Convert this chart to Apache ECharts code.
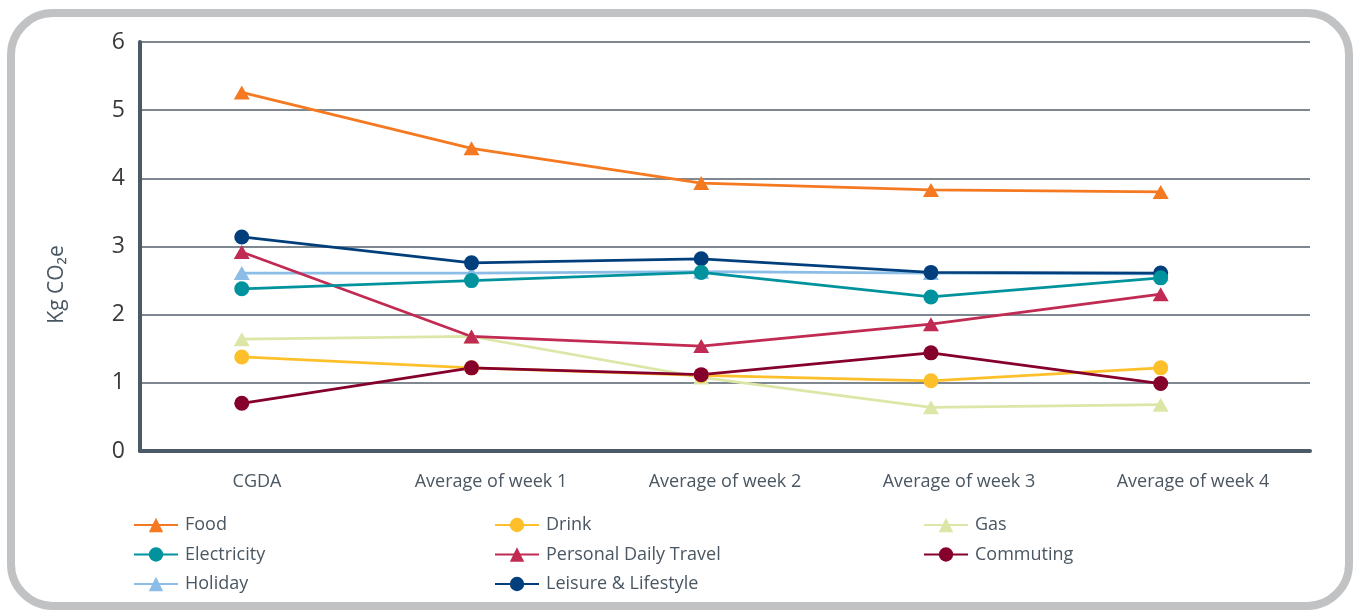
<!DOCTYPE html>
<html><head><meta charset="utf-8">
<script src="https://cdn.jsdelivr.net/npm/echarts@6/dist/echarts.min.js"></script>
<style>html,body{margin:0;padding:0;background:#fff}#c{width:1355px;height:610px}</style>
</head><body><div id="c"></div>
<script>
const categories = ['CGDA', 'Average of week 1', 'Average of week 2', 'Average of week 3', 'Average of week 4'];
const yTicks = [0, 1, 2, 3, 4, 5, 6];
const food = [5.26, 4.44, 3.93, 3.83, 3.80];
const drink = [1.38, 1.22, 1.11, 1.03, 1.22];
const gas = [1.64, 1.68, 1.08, 0.64, 0.68];
const electricity = [2.38, 2.50, 2.62, 2.26, 2.54];
const personalDailyTravel = [2.92, 1.68, 1.54, 1.86, 2.30];
const commuting = [0.70, 1.22, 1.12, 1.44, 0.99];
const holiday = [2.61, 2.61, 2.63, 2.61, 2.60];
const leisure = [3.14, 2.76, 2.82, 2.62, 2.61];

const seriesDefs = [
  {name: 'Holiday', data: holiday, color: '#8BBDE6', symbol: 'triangle'},
  {name: 'Gas', data: gas, color: '#DCE7A7', symbol: 'triangle'},
  {name: 'Drink', data: drink, color: '#FDC02A', symbol: 'circle'},
  {name: 'Food', data: food, color: '#F47920', symbol: 'triangle'},
  {name: 'Personal Daily Travel', data: personalDailyTravel, color: '#C12A52', symbol: 'triangle'},
  {name: 'Leisure & Lifestyle', data: leisure, color: '#003F7B', symbol: 'circle'},
  {name: 'Electricity', data: electricity, color: '#00939D', symbol: 'circle'},
  {name: 'Commuting', data: commuting, color: '#86002C', symbol: 'circle'}
];

const font = 'Open Sans';
const textColor = '#4A5661';
const legendBase = {
  orient: 'vertical', itemWidth: 44, itemHeight: 18, itemGap: 11.5, top: 516, padding: 0,
  textStyle: {fontFamily: font, fontSize: 18, lineHeight: 18, color: textColor, padding: [0, 0, 0, 2]}
};

const chart = echarts.init(document.getElementById('c'), null, {renderer: 'canvas'});
chart.setOption({
  animation: false,
  backgroundColor: '#fff',
  graphic: [{
    type: 'rect', shape: {x: 11, y: 13, width: 1338, height: 593, r: 42},
    style: {fill: 'none', stroke: '#C1C2C4', lineWidth: 8}, z: -1
  }],
  legend: [
    Object.assign({}, legendBase, {left: 133, data: ['Food', 'Electricity', 'Holiday']}),
    Object.assign({}, legendBase, {left: 494, data: ['Drink', 'Personal Daily Travel', 'Leisure & Lifestyle']}),
    Object.assign({}, legendBase, {left: 923, data: ['Gas', 'Commuting']})
  ],
  grid: {left: 140, right: 45, top: 42, bottom: 159, containLabel: false},
  xAxis: [{
    type: 'category', data: categories, boundaryGap: true,
    axisLine: {show: true, onZero: false, lineStyle: {color: '#4B5A66', width: 4}},
    axisTick: {show: false},
    axisLabel: {fontFamily: font, fontSize: 18, color: textColor, margin: 22}
  }, {
    type: 'value', min: -0.443, max: 4.65, show: false
  }],
  yAxis: {
    type: 'value', min: yTicks[0], max: yTicks[yTicks.length - 1], interval: 1,
    name: 'Kg CO\u2082e', nameLocation: 'middle', nameGap: 72, nameRotate: 90,
    nameTextStyle: {fontFamily: font, fontSize: 21, color: textColor, padding: [0, 76, 0, 0]},
    axisLine: {show: true, onZero: false, lineStyle: {color: '#4B5A66', width: 4}},
    axisTick: {show: false},
    axisLabel: {fontFamily: font, fontSize: 23, color: '#3A3A3A', margin: 15},
    splitLine: {show: true, lineStyle: {color: '#55616B', width: 1.5}}
  },
  series: seriesDefs.map(s => ({
    name: s.name, type: 'line', xAxisIndex: 1,
    data: s.data.map((v, i) => [i, v]),
    symbol: s.symbol, symbolSize: s.symbol === 'circle' ? 15 : [16, 14],
    color: s.color,
    lineStyle: {color: s.color, width: 2.75},
    itemStyle: {color: s.color, borderWidth: 0},
    emphasis: {disabled: true}
  }))
});
</script></body></html>
